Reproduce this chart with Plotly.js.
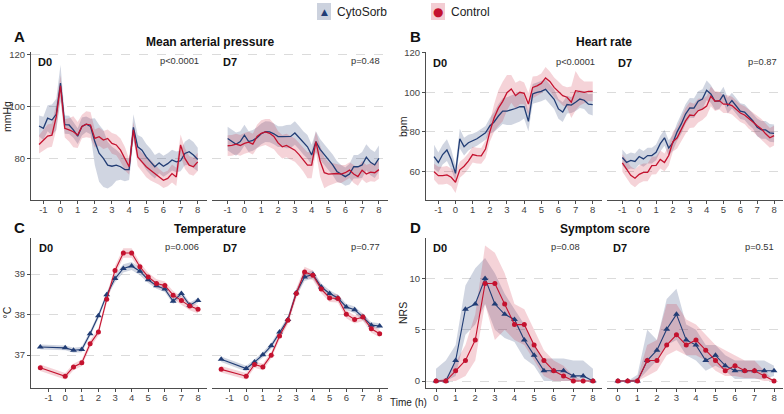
<!DOCTYPE html>
<html><head><meta charset="utf-8">
<script src="https://cdn.plot.ly/plotly-3.0.1.min.js"></script>
<style>html,body{margin:0;padding:0;background:#fff}#chart{width:784px;height:414px}</style>
</head><body><div id="chart"></div>
<script>
// ---------- DATA ----------
const timeFine0 = [-1.25,-1,-0.75,-0.5,-0.25,0,0.25,0.5,0.75,1,1.25,1.5,1.75,2,2.25,2.5,2.75,3,3.25,3.5,3.75,4,4.25,4.5,4.75,5,5.25,5.5,5.75,6,6.25,6.5,6.75,7,7.25,7.5,7.75,8];
const timeFine7 = [-1,-0.75,-0.5,-0.25,0,0.25,0.5,0.75,1,1.25,1.5,1.75,2,2.25,2.5,2.75,3,3.25,3.5,3.75,4,4.25,4.5,4.75,5,5.25,5.5,5.75,6,6.25,6.5,6.75,7,7.25,7.5,7.75,8];
const timeTemp = [-1.5,0,0.5,1,1.5,2,2.5,3,3.5,4,4.5,5,5.5,6,6.5,7,7.5,8];
const timeSym = [0,0.5,1,1.5,2,2.5,3,3.5,4,4.5,5,5.5,6,6.5,7,7.5,8];

const tickValsA = [-1,0,1,2,3,4,5,6,7,8];
const tickTextA = ['-1','0','1','2','3','4','5','6','7','8'];
const tickValsD = [0,1,2,3,4,5,6,7,8];
const tickTextD = ['0','1','2','3','4','5','6','7','8'];
const yTicksMAP = [80,100,120];
const yTicksHR = [60,80,100,120];
const yTicksTemp = [37,38,39];
const yTicksSym = [0,5,10];

// Mean arterial pressure
const mapCyto0 = [92.5,91.6,95.5,94.8,97,109,93,92.9,91,88.6,92.3,93.2,92.3,86.5,82,80,77.4,77,77.4,76.8,75.7,75.7,92,84.5,83.2,80.6,78.7,76.8,78.3,77,78,79.4,78.7,79.1,81.9,82.6,81.3,79.6];
const mapCytoErr0 = [4,4.5,5,6,6,7,3.5,3.5,3,3,3.5,3,3,9,11,11,9,7.5,6,5,4.5,4,5,4.5,5,5,5,4.5,4,4,4,4,4,4,4.5,5,5,4.5];
const mapCtrl0 = [85.4,87.1,88.6,89,96,108,91.6,91,90.3,89,92.3,93.2,92.9,87.7,88.4,87.1,87.7,85.8,85.2,83.2,80,76.8,91,80.6,78.7,76.8,75.5,74.2,72.9,71.6,72.3,74.2,72.9,85.2,80,77.4,76.8,78.7];
const mapCtrlErr0 = [3.5,4,4.5,4.5,5,4,3.5,4.5,6,5,4.5,5,5,3.5,3.5,3.5,3.5,4,4,4.5,4.5,3,3,3.5,3.5,4,4,3.5,3,3,3,3.5,3.5,4,4,3.5,3.5,3.5];
const mapCyto7 = [87.7,86.5,85.5,86.5,89,86.5,87,88,89.5,90.3,90.2,89.5,88.4,88.4,88.4,88.5,89.8,88,86,84.5,81.3,86.5,83.5,81.5,79.5,77.5,75,74,73,74,76.8,76.8,77.5,80.5,78.5,77.5,80];
const mapCytoErr7 = [4.5,4.5,4.5,4,4,4,4,4,4,4,4,4,4,4,4.5,4.5,4.5,4.5,4.5,4.5,4,4,4,4,4,4,4,3.5,3.5,4,4.5,4.5,5,5,5,5,5];
const mapCtrl7 = [84.9,85,85.5,85,85.8,86.3,85.5,88.5,89.7,90.2,89.7,88.5,86,84.5,85,84,83.2,81.5,79.5,77.4,77.4,86.5,79,74.5,74,74.2,74.2,74,74.5,75.5,74,73,75.5,74,74.7,74.5,75.7];
const mapCtrlErr7 = [4,4,4,4,4,4,4,4.5,5,5,5.5,5,4.5,4.5,4.5,4.5,4.5,4.5,4.5,5,5,4,6,6,4.5,4,3.5,3.5,3,3,3.5,3.5,3.5,3.5,3.5,3.5,3.5];

// Heart rate
const hrCyto0 = [67.5,64.5,68.5,70.8,66,59,76.5,72.5,74.5,75.5,76.5,78,79.5,83,85,88,90.5,90.5,91,91.8,92.7,92.7,85.3,99.2,100,100.5,101.5,99,96.5,91.6,90,93.8,93.5,95,96.6,96,94,93.8];
const hrCytoErr0 = [6,5,5,5.5,5,4,5,4.5,4,3.5,3.5,3.5,3.5,4,5,6,6.5,7,7.5,7.5,7.5,6,5,5,5,5,5,5,5,5,5,4.5,4,4.5,4.5,4.5,5,5.5];
const hrCtrl0 = [59.8,57.8,57.8,58.2,57,54.5,60.8,62.6,65.2,68.5,68,67.8,71.3,80,87,92,95.4,99.8,101.7,98.3,100,99.5,94.1,102.5,103.3,104.5,107.3,105.5,102.5,100.5,98.3,97.5,95,100.8,100.3,100,100.5,100.5];
const hrCtrlErr0 = [4,4.5,4.5,4.5,4.5,5.5,4,4,4,4,4,4,4.5,5,7,9,10,9,7,6.5,6,5.5,5.5,5.5,5,5,5.5,5,5,5,5,5,8,10,7,5.5,5,5];
const hrCyto7 = [67,64.5,65.5,65,67.5,66.3,68,68,69.6,74,77,71.8,74.5,80,84,89,92.1,92,95.5,96.6,101,99.2,95.5,95.5,98.8,93.3,95.8,93,90.5,90,87.5,85.5,82.3,81,81,79.5,79.2];
const hrCytoErr7 = [4,4,4,4,4,4,4,4,4,4,4,4,4,4.5,5,5,5,5,5,5,5,4.5,4.5,4,4,4,4,4,4,4,4,4,4.5,4.5,4.5,4.5,4.5];
const hrCtrl7 = [64.3,61,58,56.5,58.5,59.5,59.5,62.9,63,66,64.5,68,75,77,81.5,85.5,88.5,88.2,90.7,91.5,93,98,95.5,95.8,94,94,93.3,91.6,89.5,88.5,86.5,85,83.1,81.5,79,77,78.1];
const hrCtrlErr7 = [4.5,4.5,4.5,4.5,4.5,4.5,4.5,4.5,4.5,4.5,4.5,5,5,5.5,6,6.5,6.5,6,6,5.5,5,5,5,4.5,4.5,4.5,4.5,4.5,4.5,4.5,5,5,5,5,5,5,5];

// Temperature
const tempCyto0 = [37.2,37.18,37.12,37.14,37.53,37.97,38.49,38.89,39.14,39.2,39.07,38.86,38.71,38.63,38.33,38.52,38.23,38.35];
const tempCytoErr0 = [0.06,0.06,0.06,0.07,0.07,0.07,0.07,0.1,0.1,0.1,0.1,0.08,0.07,0.07,0.07,0.07,0.07,0.06];
const tempCtrl0 = [36.69,36.48,36.71,36.81,37.28,37.57,38.38,39.09,39.52,39.52,39.18,38.93,38.77,38.72,38.48,38.35,38.21,38.13];
const tempCtrlErr0 = [0.08,0.08,0.08,0.08,0.09,0.09,0.1,0.11,0.12,0.12,0.1,0.1,0.1,0.1,0.1,0.1,0.1,0.1];
const tempCyto7 = [36.9,36.67,36.83,37.01,37.23,37.57,37.88,38.54,38.93,38.99,38.68,38.52,38.41,38.19,38.12,37.94,37.74,37.72];
const tempCytoErr7 = [0.07,0.07,0.07,0.07,0.07,0.07,0.08,0.09,0.1,0.1,0.09,0.08,0.08,0.08,0.08,0.08,0.07,0.07];
const tempCtrl7 = [36.65,36.48,36.77,36.71,37.0,37.47,37.86,38.52,39.05,38.97,38.63,38.41,38.4,38.01,37.88,37.94,37.65,37.53];
const tempCtrlErr7 = [0.08,0.08,0.08,0.08,0.08,0.09,0.1,0.12,0.13,0.12,0.1,0.1,0.1,0.1,0.1,0.1,0.1,0.09];

// Symptom score (NRS)
const symCyto0 = [0,0,2,7,7.5,10,7.5,6.5,6,4,2.5,1,1,1,0.5,0.5,0];
const symCyto0Lo = [0,0,0.5,4.5,5.5,7.5,5,4.2,3.8,2.2,1.5,0,0,0,0,0,0];
const symCyto0Hi = [1.2,2,3.5,9.3,11,12,10.5,8.5,7,5.5,3.5,2.2,2.2,2.2,2,2,1.2];
const symCtrl0 = [0,0,1,2,4,9.5,9.5,7.5,5.5,5.5,3.5,2,1,0.5,0,0,0];
const symCtrl0Lo = [0,0,0,0.5,2,7.5,4,5,4,3.5,2,0.5,0,0,0,0,0];
const symCtrl0Hi = [0,0.3,1.8,3.5,6.5,13.2,12.5,10.5,7.5,7,5,3,2,1.5,0.5,0,0];
const symCyto7 = [0,0,0,2,3,5.05,6.5,4,3.5,2,2.5,1.5,1,1,1,1,1];
const symCyto7Lo = [0,0,0,1,2,3.5,4,2.5,2,1,1.5,1,0.2,0.2,0.2,0.2,0.5];
const symCyto7Hi = [0,0,0.6,5,4,8,9,5.5,5,3.5,3.5,2.5,2,2,2,2,1.5];
const symCtrl7 = [0,0,0,2,2,3.5,4.5,3.5,4,3,2,1,1.5,1,1,0.5,0];
const symCtrl7Lo = [0,0,0,0.5,1,2.5,3,2.5,2.5,2,1,0.5,0.5,0.3,0.3,0,0];
const symCtrl7Hi = [0,0,0.3,3.5,4,7.5,7.5,6,5.5,4.5,3.5,3,2.5,2,2,1,0];

// ---------- STYLE ----------
const W = 784, H = 414;
const NAVY = '#213d75', RED = '#c4122f';
const NAVY_FILL = 'rgba(40,66,120,0.22)', RED_FILL = 'rgba(200,20,50,0.19)';
const FONT = 'Liberation Sans, Arial, Helvetica, sans-serif';
const AX = '#4d4d4d';
const TICK_SIZE = 9.5;
const px = v => v / W, py = v => 1 - v / H;

const sub = n => (n === 1 ? '' : String(n));
const minus = (m, e) => m.map((v, i) => v - e[i]);
const plus = (m, e) => m.map((v, i) => v + e[i]);

function band(x, lo, hi, fill, n) {
  return {type:'scatter', mode:'lines', x:x.concat(x.slice().reverse()),
    y:hi.concat(lo.slice().reverse()), fill:'toself', fillcolor:fill,
    line:{width:0, color:fill}, hoverinfo:'skip', showlegend:false,
    xaxis:'x'+sub(n), yaxis:'y'+sub(n)};
}
function line(x, y, color, n, sym) {
  const t = {type:'scatter', mode: sym ? 'lines+markers' : 'lines', x, y,
    line:{color, width: sym ? 1.1 : 1.3}, showlegend:false, hoverinfo:'skip',
    xaxis:'x'+sub(n), yaxis:'y'+sub(n)};
  if (sym) t.marker = {symbol: sym, size: sym === 'circle' ? 5 : 6, color};
  return t;
}

const traces = [];
function addFine(n, t, c, ce, k, ke) {
  traces.push(band(t, minus(c,ce), plus(c,ce), NAVY_FILL, n));
  traces.push(band(t, minus(k,ke), plus(k,ke), RED_FILL, n));
  traces.push(line(t, c, NAVY, n));
  traces.push(line(t, k, RED, n));
}
function addPts(n, t, c, cLo, cHi, k, kLo, kHi) {
  traces.push(band(t, cLo, cHi, NAVY_FILL, n));
  traces.push(band(t, kLo, kHi, RED_FILL, n));
  traces.push(line(t, c, NAVY, n, 'triangle-up'));
  traces.push(line(t, k, RED, n, 'circle'));
}
addFine(1, timeFine0, mapCyto0, mapCytoErr0, mapCtrl0, mapCtrlErr0);
addFine(2, timeFine7, mapCyto7, mapCytoErr7, mapCtrl7, mapCtrlErr7);
addFine(3, timeFine0, hrCyto0, hrCytoErr0, hrCtrl0, hrCtrlErr0);
addFine(4, timeFine7, hrCyto7, hrCytoErr7, hrCtrl7, hrCtrlErr7);
addPts(5, timeTemp, tempCyto0, minus(tempCyto0,tempCytoErr0), plus(tempCyto0,tempCytoErr0), tempCtrl0, minus(tempCtrl0,tempCtrlErr0), plus(tempCtrl0,tempCtrlErr0));
addPts(6, timeTemp, tempCyto7, minus(tempCyto7,tempCytoErr7), plus(tempCyto7,tempCytoErr7), tempCtrl7, minus(tempCtrl7,tempCtrlErr7), plus(tempCtrl7,tempCtrlErr7));
addPts(7, timeSym, symCyto0, symCyto0Lo, symCyto0Hi, symCtrl0, symCtrl0Lo, symCtrl0Hi);
addPts(8, timeSym, symCyto7, symCyto7Lo, symCyto7Hi, symCtrl7, symCtrl7Lo, symCtrl7Hi);

// ---------- LAYOUT ----------
const cols = [[31,207],[212,388],[426,602],[607,783]];
const rows = [[52,200],[238,388]];
const panels = [
  {n:1, col:0, row:0, xr:[-1.72,8.54], yr:[64,121], yt:yTicksMAP, xt:tickValsA, xl:tickTextA, left:true},
  {n:2, col:1, row:0, xr:[-1.93,8.54], yr:[64,121], yt:yTicksMAP, xt:tickValsA, xl:tickTextA, left:false},
  {n:3, col:2, row:0, xr:[-1.72,8.54], yr:[45.5,120.4], yt:yTicksHR, xt:tickValsA, xl:tickTextA, left:true},
  {n:4, col:3, row:0, xr:[-1.91,8.53], yr:[45.5,120.4], yt:yTicksHR, xt:tickValsA, xl:tickTextA, left:false},
  {n:5, col:0, row:1, xr:[-2.06,8.54], yr:[36.19,39.89], yt:yTicksTemp, xt:tickValsA, xl:tickTextA, left:true},
  {n:6, col:1, row:1, xr:[-2.05,8.5], yr:[36.19,39.89], yt:yTicksTemp, xt:tickValsA, xl:tickTextA, left:false},
  {n:7, col:2, row:1, xr:[-0.51,8.46], yr:[-0.68,13.94], yt:yTicksSym, xt:tickValsD, xl:tickTextD, left:true},
  {n:8, col:3, row:1, xr:[-0.56,8.46], yr:[-0.68,13.94], yt:yTicksSym, xt:tickValsD, xl:tickTextD, left:false}
];

const layout = {width:W, height:H, margin:{l:0,r:0,t:0,b:0, autoexpand:false}, paper_bgcolor:'#fff', plot_bgcolor:'rgba(0,0,0,0)',
  font:{family:FONT, color:'#222'}, showlegend:false, hovermode:false, annotations:[], shapes:[]};

panels.forEach(p => {
  const s = sub(p.n);
  layout['xaxis'+s] = {domain:[px(cols[p.col][0]), px(cols[p.col][1])], range:p.xr, anchor:'y'+s,
    tickmode:'array', tickvals:p.xt, ticktext:p.xl, showline:true, linecolor:AX, linewidth:1,
    ticks:'outside', ticklen:3, tickwidth:1, tickcolor:AX, tickfont:{size:TICK_SIZE, color:'#444'},
    ticklabelstandoff:-2, showgrid:false, zeroline:false, fixedrange:true};
  layout['yaxis'+s] = {domain:[py(rows[p.row][1]), py(rows[p.row][0])], range:p.yr, anchor:'x'+s,
    tickmode:'array', tickvals:p.yt, ticktext:p.yt.map(String), showline:p.left, linecolor:AX, linewidth:1,
    ticks:p.left ? 'outside' : '', ticklen:3, tickwidth:1, tickcolor:AX, showticklabels:p.left,
    tickfont:{size:TICK_SIZE, color:'#444'}, showgrid:true, gridcolor:'#d2d2d2', gridwidth:0.8, griddash:'dash',
    zeroline:false, fixedrange:true};
});

function ann(text, x, y, o) {
  o = o || {};
  layout.annotations.push({xref:'paper', yref:'paper', x:px(x), y:py(y), text, showarrow:false,
    xanchor:o.xa || 'center', yanchor:'middle', textangle:o.rot || 0,
    font:{family:o.fam || FONT, size:o.size || 11, color:o.color || '#111'}});
}
// panel letters and titles
ann('<b>A</b>', 12, 37, {xa:'left', size:15});
ann('<b>B</b>', 408, 37, {xa:'left', size:15});
ann('<b>C</b>', 12, 227, {xa:'left', size:15});
ann('<b>D</b>', 408, 227, {xa:'left', size:15});
ann('<b>Mean arterial pressure</b>', 210, 41.5, {size:12});
ann('<b>Heart rate</b>', 604, 41.5, {size:12});
ann('<b>Temperature</b>', 209.5, 229, {size:12});
ann('<b>Symptom score</b>', 604.5, 229, {size:12});
// day labels
[['D0',36,62],['D7',221,62],['D0',431,63],['D7',616,63],['D0',37,248],['D7',221,248],['D0',431,248],['D7',611,248]]
  .forEach(d => ann('<b>'+d[0]+'</b>', d[1], d[2], {xa:'left', size:11}));
// p-values
[['p&lt;0.0001',201,61],['p=0.48',382,61],['p&lt;0.0001',597,62],['p=0.87',779,62],
 ['p=0.006',201,247],['p=0.77',382,247],['p=0.08',582,247],['p=0.51',776,247]]
  .forEach(d => ann(d[0], d[1], d[2], {xa:'right', size:9.3, color:'#333'}));
// axis titles
ann('mmHg', 7, 117, {rot:-90, size:10.5, color:'#222'});
ann('bpm', 403, 127, {rot:-90, size:10.5, color:'#222'});
ann('°C', 6.5, 313, {rot:-90, size:10.5, color:'#222'});
ann('NRS', 403, 313, {rot:-90, size:10.5, color:'#222'});
ann('Time (h)', 408, 402, {size:10, color:'#222'});
// legend
layout.shapes.push({type:'rect', xref:'paper', yref:'paper', x0:px(317), x1:px(331), y0:py(20), y1:py(3), fillcolor:'#ccd2de', line:{width:0}});
layout.shapes.push({type:'rect', xref:'paper', yref:'paper', x0:px(431), x1:px(445), y0:py(20), y1:py(3), fillcolor:'#f3cdd3', line:{width:0}});
ann('▲', 324, 11.5, {size:9, color:NAVY, fam:'DejaVu Sans'});
ann('●', 438, 11.5, {size:12, color:RED, fam:'DejaVu Sans'});
ann('CytoSorb', 335, 11.5, {xa:'left', size:12, color:'#222'});
ann('Control', 449, 11.5, {xa:'left', size:12, color:'#222'});

Plotly.newPlot('chart', traces, layout, {displayModeBar:false, staticPlot:true});
</script></body></html>
